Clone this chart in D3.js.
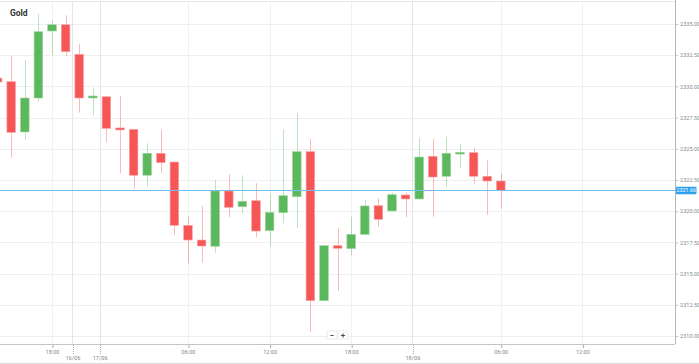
<!DOCTYPE html>
<html><head><meta charset="utf-8">
<script src="https://cdn.jsdelivr.net/npm/d3@7"></script>
<style>
html,body{margin:0;padding:0;background:#fff;}
svg{display:block;font-family:Roboto,"Noto Sans",sans-serif;}
</style></head>
<body><div id="chart"></div>
<script>
// ---- data (hourly candles, index 0..37) ----
const opens  = [2330.67,2330.38,2326.35,2329.07,2334.44,2334.94,2332.57,2329.07,2329.17,2326.67,
                2326.56,2322.88,2324.64,2323.94,2318.87,2317.69,2317.19,2321.62,2320.36,2320.84,
                2318.44,2319.88,2321.16,2324.77,2312.83,2317.24,2317.00,2318.15,2320.44,2320.02,
                2321.30,2320.98,2324.40,2322.80,2324.58,2324.69,2322.80,2322.42];
const highs  = [2330.75,2332.44,2332.12,2335.80,2335.32,2335.70,2333.37,2329.93,2329.20,2329.23,
                2326.60,2325.44,2326.51,2323.97,2319.56,2320.42,2322.50,2322.96,2322.88,2322.24,
                2321.43,2326.56,2327.84,2325.81,2317.32,2318.63,2319.56,2320.90,2321.03,2321.48,
                2321.51,2325.89,2325.76,2325.97,2325.38,2325.06,2324.08,2323.04];
const lows   = [2330.27,2324.29,2325.71,2328.75,2332.49,2332.44,2327.89,2327.68,2325.52,2323.04,
                2321.80,2321.96,2323.04,2318.09,2315.83,2315.87,2316.67,2319.54,2319.83,2317.91,
                2317.16,2319.03,2318.65,2310.32,2312.83,2313.61,2316.47,2318.10,2318.76,2319.98,
                2319.51,2320.95,2319.56,2321.92,2323.49,2322.16,2319.72,2320.20];
const closes = [2330.35,2326.32,2329.07,2334.38,2334.94,2332.78,2329.07,2329.23,2326.64,2326.51,
                2322.88,2324.64,2323.89,2318.87,2317.69,2317.21,2321.62,2320.31,2320.79,2318.41,
                2319.91,2321.24,2324.77,2312.83,2317.24,2317.03,2318.15,2320.42,2319.35,2321.32,
                2320.98,2324.34,2322.74,2324.64,2324.72,2322.80,2322.42,2321.66];
const currentPrice = 2321.66;
const title = "Gold";
const yTickValues = [2310,2312.5,2315,2317.5,2320,2322.5,2325,2327.5,2330,2332.5,2335];
// x tick positions are in candle-index units
const xTickIndex  = [4, 5.5, 7.5, 14, 20, 26, 30.5, 37, 43];
const xTickLabels = ["18:00","16/06","17/06","06:00","12:00","18:00","18/06","06:00","12:00"];
const xTickIsDate = [false,true,true,false,false,false,true,false,false];

// ---- layout ----
const W = 699, H = 364;
const plotRight = 675, plotTop = 1, plotBottom = 344;
const UP = "#5cb85c", DOWN = "#f65656";

const svg = d3.select("#chart").append("svg").attr("width", W).attr("height", H);

const x = d3.scaleLinear().domain([4, 43]).range([52, 582.4]);
const y = d3.scaleLinear().domain([2310, 2335]).range([336, 24]);
const bodyW = 8.6;

// grid
const grid = svg.append("g");
grid.selectAll("line.h").data(yTickValues).join("line")
  .attr("x1", 0).attr("x2", plotRight)
  .attr("y1", d => Math.round(y(d)) + 0.5).attr("y2", d => Math.round(y(d)) + 0.5)
  .attr("stroke", "#efefef");
grid.selectAll("line.v").data(xTickIndex).join("line")
  .attr("x1", d => Math.round(x(d)) + 0.5).attr("x2", d => Math.round(x(d)) + 0.5)
  .attr("y1", plotTop).attr("y2", plotBottom)
  .attr("stroke", (d, i) => xTickIsDate[i] ? "#e6e6e6" : "#f1f1f1");

// frame
svg.append("line").attr("x1", 0).attr("x2", plotRight).attr("y1", 1.5).attr("y2", 1.5).attr("stroke", "#e8e8e8");
svg.append("line").attr("x1", 0).attr("x2", W).attr("y1", 363.5).attr("y2", 363.5).attr("stroke", "#dedede");

// candles
const idx = d3.range(opens.length);
const cg = svg.append("g");
cg.selectAll("line.wick").data(idx).join("line")
  .attr("x1", i => Math.round(x(i)) + 0.5).attr("x2", i => Math.round(x(i)) + 0.5)
  .attr("y1", i => y(highs[i])).attr("y2", i => y(lows[i]))
  .attr("stroke", i => closes[i] >= opens[i] ? UP : DOWN)
  .attr("stroke-opacity", 0.4).attr("stroke-width", 1);
cg.selectAll("rect.body").data(idx).join("rect")
  .attr("x", i => x(i) - bodyW / 2)
  .attr("width", bodyW)
  .attr("y", i => y(Math.max(opens[i], closes[i])))
  .attr("height", i => Math.max(1.5, Math.abs(y(opens[i]) - y(closes[i]))))
  .attr("fill", i => closes[i] >= opens[i] ? UP : DOWN)
  .attr("stroke", i => closes[i] >= opens[i] ? "#9ed49e" : "#f9a3a3")
  .attr("stroke-width", 0.6);

// current price line
svg.append("line").attr("x1", 0).attr("x2", plotRight)
  .attr("y1", Math.round(y(currentPrice)) + 0.5).attr("y2", Math.round(y(currentPrice)) + 0.5)
  .attr("stroke", "#6fbff0").attr("stroke-width", 1);

// right axis
const yAxis = d3.axisRight(y).tickValues(yTickValues).tickSize(3).tickPadding(1.5)
  .tickFormat(d3.format(".2f"));
const ya = svg.append("g").attr("transform", `translate(${plotRight + 0.5},0)`).call(yAxis);
ya.select(".domain").attr("stroke", "#b5b5b5").attr("d", `M0,0V${plotBottom}`);
ya.selectAll(".tick line").attr("stroke", "#c8c8c8");
ya.selectAll(".tick text").attr("font-size", 5.6).attr("fill", "#8a8a8a").attr("font-family", "Roboto, sans-serif");

// current price label
const cpY = y(currentPrice);
svg.append("rect").attr("x", 676).attr("y", cpY - 3.8).attr("width", 20.5).attr("height", 7.6)
  .attr("rx", 1).attr("fill", "#2f9ff0");
svg.append("text").attr("x", 686.25).attr("y", cpY + 2).attr("font-size", 5.3)
  .attr("text-anchor", "middle").attr("font-family", "Roboto, sans-serif")
  .attr("fill", "#fff").text(d3.format(".2f")(currentPrice));

// bottom axis
svg.append("line").attr("x1", 0).attr("x2", plotRight).attr("y1", plotBottom + 0.5).attr("y2", plotBottom + 0.5)
  .attr("stroke", "#c4c4c4");
const xAxis = d3.axisBottom(x).tickValues(xTickIndex).tickSize(0).tickFormat((d, i) => xTickLabels[i]);
const xa = svg.append("g").attr("transform", `translate(0,${plotBottom})`).call(xAxis);
xa.select(".domain").remove();
xa.selectAll(".tick").each(function(d, i) {
  const g = d3.select(this);
  const isDate = xTickIsDate[i];
  g.append("line").attr("x1", 0.5).attr("x2", 0.5).attr("y1", 1).attr("y2", isDate ? 10 : 4)
    .attr("stroke", "#aaa").attr("stroke-dasharray", isDate ? "1,1" : null);
  g.select("text").attr("y", isDate ? 12 : 6).attr("dy", "0.71em")
    .attr("font-size", 5.6).attr("fill", "#888").attr("font-family", "Roboto, sans-serif");
});

// title
svg.append("text").attr("x", 10).attr("y", 16).attr("font-size", 8.5).attr("font-weight", "bold")
  .attr("fill", "#333").attr("font-family", "Roboto, sans-serif").text(title);

// zoom buttons
const zb = svg.append("g").attr("transform", "translate(327,331)");
[["−", 0], ["+", 11]].forEach(([t, dx]) => {
  zb.append("rect").attr("x", dx).attr("y", 0).attr("width", 10).attr("height", 8)
    .attr("fill", "#fff").attr("stroke", "#e2e2e2").attr("stroke-width", 0.6);
  zb.append("text").attr("x", dx + 5).attr("y", 6.6).attr("text-anchor", "middle")
    .attr("font-size", 8).attr("font-weight", "bold").attr("fill", "#444").text(t);
});
</script>
</body></html>
